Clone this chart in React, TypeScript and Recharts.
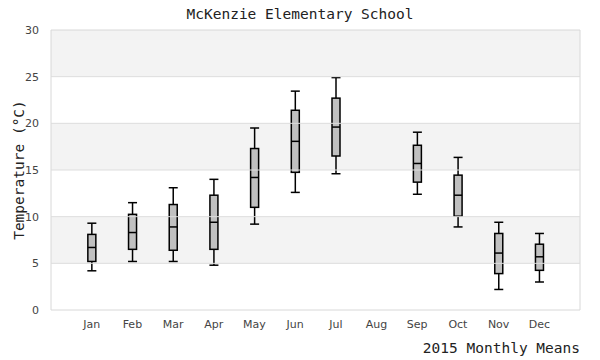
import React from "react";
import { ComposedChart, Bar, XAxis, YAxis, ReferenceArea, ReferenceLine } from "recharts";

const months = ["Jan", "Feb", "Mar", "Apr", "May", "Jun", "Jul", "Aug", "Sep", "Oct", "Nov", "Dec"];
const whiskerLow: (number | null)[] = [4.2, 5.2, 5.2, 4.8, 9.2, 12.6, 14.6, null, 12.4, 8.9, 2.2, 3.0];
const quartile1: (number | null)[] = [5.2, 6.5, 6.4, 6.5, 11.0, 14.75, 16.5, null, 13.7, 10.05, 3.9, 4.25];
const medians: (number | null)[] = [6.7, 8.3, 8.9, 9.4, 14.2, 18.07, 19.6, null, 15.7, 12.3, 6.1, 5.7];
const quartile3: (number | null)[] = [8.1, 10.25, 11.3, 12.3, 17.3, 21.4, 22.7, null, 17.65, 14.45, 8.2, 7.05];
const whiskerHigh: (number | null)[] = [9.3, 11.5, 13.1, 14.0, 19.5, 23.45, 24.9, null, 19.05, 16.35, 9.4, 8.2];
const yTicks = [0, 5, 10, 15, 20, 25, 30];
const xTicks = [1, 2, 3, 4, 5, 6, 7, 8, 9, 10, 11, 12];
const shadedBands = [[5, 10], [15, 20], [25, 30]];
const gridLines = [5, 10, 15, 20, 25];

const data = months.map((m, i) => ({
  idx: i + 1,
  month: m,
  range: whiskerLow[i] == null ? null : [whiskerLow[i], whiskerHigh[i]],
  q1: quartile1[i],
  med: medians[i],
  q3: quartile3[i],
}));

const mono = "'DejaVu Sans Mono', monospace";

function BoxShape(props: any) {
  const { x, y, width, height, payload } = props;
  if (!payload || !payload.range) return null;
  const [lo, hi] = payload.range;
  const k = height / (hi - lo);
  const py = (v: number) => y + (hi - v) * k;
  const cx = x + width / 2;
  const capHalf = 4.5;
  const boxHalf = 4;
  const sw = 1.5;
  return (
    <g>
      <line x1={cx} x2={cx} y1={py(hi)} y2={py(payload.q3)} stroke="#000" strokeWidth={sw} />
      <line x1={cx} x2={cx} y1={py(payload.q1)} y2={py(lo)} stroke="#000" strokeWidth={sw} />
      <line x1={cx - capHalf} x2={cx + capHalf} y1={py(hi)} y2={py(hi)} stroke="#000" strokeWidth={sw} />
      <line x1={cx - capHalf} x2={cx + capHalf} y1={py(lo)} y2={py(lo)} stroke="#000" strokeWidth={sw} />
      <rect
        x={cx - boxHalf}
        y={py(payload.q3)}
        width={boxHalf * 2}
        height={py(payload.q1) - py(payload.q3)}
        fill="#c0c0c0"
        stroke="#000"
        strokeWidth={sw}
      />
      <line x1={cx - boxHalf} x2={cx + boxHalf} y1={py(payload.med)} y2={py(payload.med)} stroke="#000" strokeWidth={sw} />
    </g>
  );
}

export default function App() {
  return (
    <div style={{ position: "absolute", left: 0, top: 0, width: 600, height: 360, background: "#fff" }}>
      <ComposedChart width={600} height={360} data={data} margin={{ top: 30, right: 20, bottom: 0, left: 0 }}>
        <text x={300} y={19} textAnchor="middle" fontFamily={mono} fontSize={14.5} fill="#222">
          McKenzie Elementary School
        </text>
        <text
          x={24}
          y={170}
          textAnchor="middle"
          fontFamily={mono}
          fontSize={14.5}
          fill="#222"
          transform="rotate(-90 24 170)"
        >
          Temperature (°C)
        </text>
        <text x={580} y={353} textAnchor="end" fontFamily={mono} fontSize={14.5} fill="#222">
          2015 Monthly Means
        </text>
        <XAxis
          dataKey="idx"
          type="number"
          domain={[0, 13]}
          ticks={xTicks}
          tickFormatter={(v: number) => months[v - 1]}
          axisLine={false}
          tickLine={false}
          height={50}
          tickMargin={4}
          interval={0}
          tick={{ fill: "#444", fontSize: 11, fontFamily: "'DejaVu Sans', sans-serif" }}
        />
        <YAxis
          domain={[0, 30]}
          ticks={yTicks}
          axisLine={false}
          tickLine={false}
          width={51}
          tickMargin={6}
          interval={0}
          tick={{ fill: "#444", fontSize: 11, fontFamily: "'DejaVu Sans', sans-serif" }}
        />
        {shadedBands.map(([a, b]) => (
          <ReferenceArea key={a} y1={a} y2={b} fill="#f3f3f3" fillOpacity={1} stroke="none" />
        ))}
        {gridLines.map((v) => (
          <ReferenceLine key={v} y={v} stroke="#dddddd" strokeWidth={1} />
        ))}
        <ReferenceArea y1={0} y2={30} fill="none" stroke="#d8d8d8" strokeWidth={1} />
        <Bar dataKey="range" barSize={9} shape={BoxShape} isAnimationActive={false} />
      </ComposedChart>
    </div>
  );
}
